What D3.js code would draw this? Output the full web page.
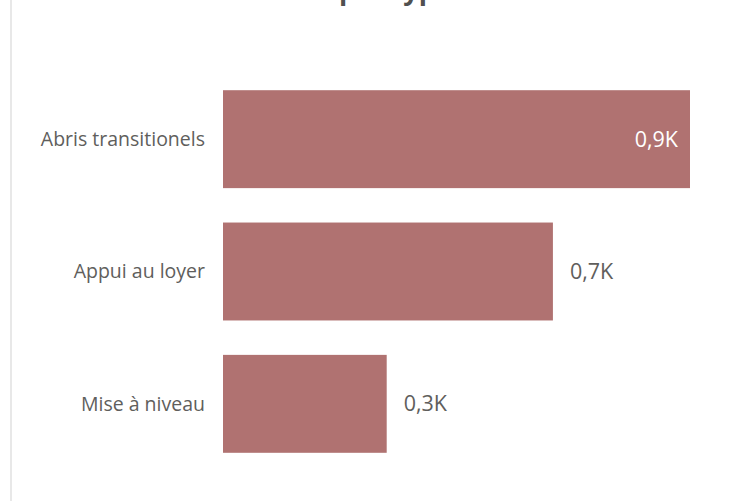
<html>
<head>
<script src="https://cdnjs.cloudflare.com/ajax/libs/d3/7.8.5/d3.min.js"></script>
<style>
  body { margin:0; background:#fff; }
  text { font-family: "Segoe UI", "Open Sans", "Noto Sans", sans-serif; }
</style>
</head>
<body>
<svg id="MAINSVG" width="731" height="501"></svg>
<script>
  var title_text = "Les familles assistées par type d'intervention";
  var categories = ["Abris transitionels", "Appui au loyer", "Mise à niveau"];
  var values = [930, 657, 326];
  var value_labels = ["0,9K", "0,7K", "0,3K"];

  var SVG = d3.select("#MAINSVG");
  var W = 731, H = 501;
  var bar_color = "rgb(176,114,113)";
  var text_color = "rgb(96,94,92)";

  // left border line of the card
  SVG.append("line")
     .attr("x1", 11).attr("x2", 11)
     .attr("y1", 0).attr("y2", H)
     .attr("stroke", "rgb(232,232,232)")
     .attr("stroke-width", 2);

  // title, clipped by the top of the window like in the reference
  SVG.append("text")
     .attr("x", 44)
     .attr("y", 0)
     .attr("fill", "rgb(80,80,80)")
     .style("font-size", "27px")
     .style("font-weight", "bold")
     .text(title_text);

  var x = d3.scaleLinear()
            .domain([0, d3.max(values)])
            .range([223, 690]);

  var y = d3.scaleBand()
            .domain(categories)
            .range([73, 470])
            .paddingInner(0.26)
            .paddingOuter(0.13);

  SVG.selectAll("rect.bar")
     .data(categories)
     .enter().append("rect")
     .attr("class", "bar")
     .attr("x", x(0))
     .attr("y", function(d){ return y(d); })
     .attr("width", function(d,i){ return x(values[i]) - x(0); })
     .attr("height", y.bandwidth())
     .attr("fill", bar_color);

  // category labels
  SVG.selectAll("text.cat")
     .data(categories)
     .enter().append("text")
     .attr("class", "cat")
     .attr("x", x(0) - 18)
     .attr("y", function(d){ return y(d) + y.bandwidth()/2; })
     .attr("dy", "0.35em")
     .attr("text-anchor", "end")
     .attr("fill", text_color)
     .style("font-size", "19.5px")
     .text(function(d){ return d; });

  // value labels: inside the bar when there is no room after it
  SVG.selectAll("text.val")
     .data(categories)
     .enter().append("text")
     .attr("class", "val")
     .attr("y", function(d){ return y(d) + y.bandwidth()/2; })
     .attr("dy", "0.35em")
     .style("font-size", "21.5px")
     .text(function(d,i){ return value_labels[i]; })
     .each(function(d,i){
        var t = d3.select(this);
        var w = this.getComputedTextLength();
        var end = x(values[i]);
        if (end + 17 + w > W - 10) {
          t.attr("x", end - 12).attr("text-anchor", "end").attr("fill", "#fff");
        } else {
          t.attr("x", end + 17).attr("text-anchor", "start").attr("fill", text_color);
        }
     });
</script>
</body>
</html>
